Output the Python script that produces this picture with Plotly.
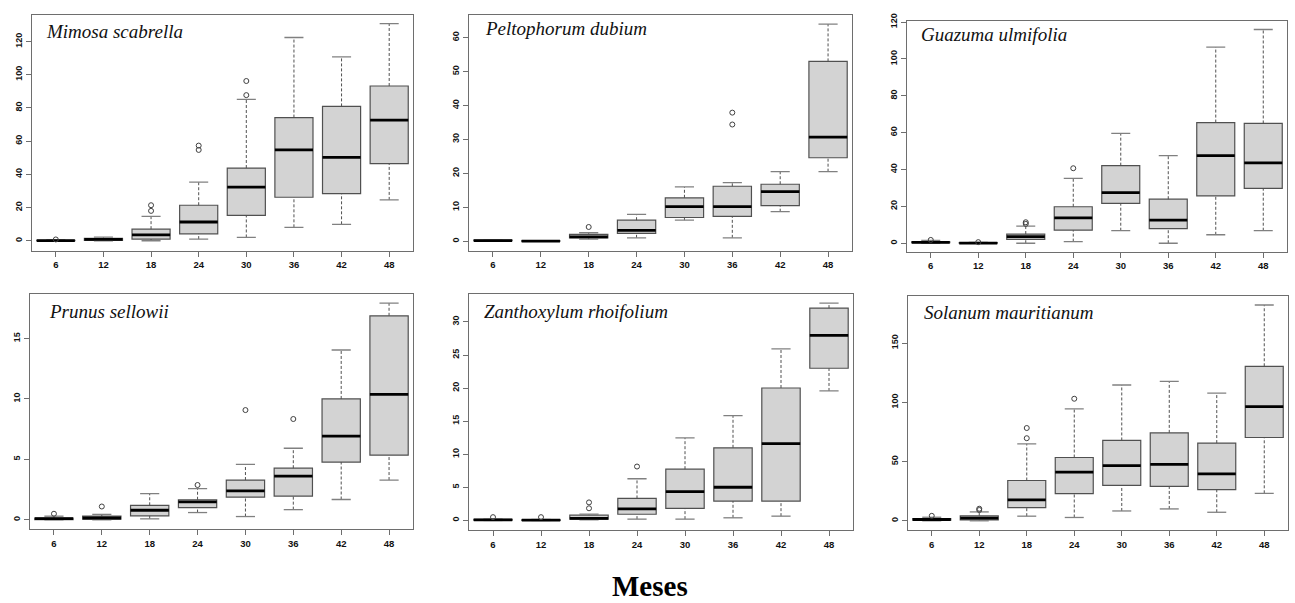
import plotly.graph_objects as go

W, H = 1295, 603
months = ["6", "12", "18", "24", "30", "36", "42", "48"]
xpos = [1, 2, 3, 4, 5, 6, 7, 8]

species = ["Mimosa scabrella", "Peltophorum dubium", "Guazuma ulmifolia",
           "Prunus sellowii", "Zanthoxylum rhoifolium", "Solanum mauritianum"]

# Mimosa scabrella
mim_low = [0, 0, 0, 1.0, 2.0, 8.1, 9.9, 24.6]
mim_q1 = [0, 0.2, 1.0, 4.2, 15.3, 26.2, 28.4, 46.4]
mim_med = [0.1, 0.8, 3.6, 11.3, 32.3, 54.7, 50.2, 72.6]
mim_q3 = [0.3, 1.5, 7.0, 21.4, 43.8, 74.2, 80.9, 93.2]
mim_up = [0.6, 2.2, 14.7, 35.3, 85.1, 122.4, 110.7, 130.7]
mim_out_x = [1, 3, 3, 4, 4, 5, 5]
mim_out_y = [0.8, 18.0, 21.4, 54.7, 57.3, 87.7, 96.2]

# Peltophorum dubium
pel_low = [0.1, 0.0, 0.6, 1.0, 6.2, 1.0, 8.7, 20.5]
pel_q1 = [0.15, 0.0, 1.0, 2.3, 7.0, 7.3, 10.5, 24.6]
pel_med = [0.2, 0.05, 1.3, 3.2, 10.2, 10.2, 14.6, 30.7]
pel_q3 = [0.3, 0.1, 2.0, 6.2, 12.8, 16.2, 16.8, 53.0]
pel_up = [0.35, 0.15, 2.5, 7.9, 16.0, 17.3, 20.5, 64.0]
pel_out_x = [3, 6, 6]
pel_out_y = [4.2, 34.4, 37.9]

# Guazuma ulmifolia
gua_low = [0, 0, 0, 0.9, 6.8, 0, 4.6, 6.8]
gua_q1 = [0.3, 0, 2.1, 7.1, 21.6, 7.9, 25.7, 29.8]
gua_med = [0.5, 0.1, 3.6, 13.8, 27.5, 12.5, 47.5, 43.6]
gua_q3 = [0.8, 0.3, 5.0, 19.8, 42.1, 23.9, 65.5, 65.0]
gua_up = [1.5, 0.4, 9.3, 35.2, 59.6, 47.5, 106.4, 116.0]
gua_out_x = [1, 2, 3, 3, 4]
gua_out_y = [1.8, 0.6, 10.5, 11.4, 40.7]

# Prunus sellowii
pru_low = [0, 0, 0.08, 0.6, 0.27, 0.84, 1.68, 3.29]
pru_q1 = [0.02, 0.05, 0.33, 1.0, 1.87, 1.96, 4.78, 5.35]
pru_med = [0.1, 0.15, 0.79, 1.49, 2.39, 3.61, 6.93, 10.38]
pru_q3 = [0.15, 0.3, 1.2, 1.66, 3.29, 4.27, 10.0, 16.88]
pru_up = [0.3, 0.45, 2.17, 2.58, 4.59, 5.92, 14.05, 17.93]
pru_out_x = [1, 2, 4, 5, 6]
pru_out_y = [0.5, 1.1, 2.88, 9.08, 8.34]

# Zanthoxylum rhoifolium
zan_low = [0, 0, 0.1, 0.2, 0.2, 0.4, 0.65, 19.57]
zan_q1 = [0.05, 0.0, 0.2, 0.94, 1.84, 2.93, 2.93, 23.0]
zan_med = [0.1, 0.05, 0.3, 1.74, 4.37, 5.02, 11.62, 27.97]
zan_q3 = [0.15, 0.1, 0.8, 3.33, 7.75, 10.98, 20.02, 32.09]
zan_up = [0.2, 0.15, 0.95, 6.3, 12.47, 15.85, 25.93, 32.84]
zan_out_x = [1, 2, 3, 3, 4]
zan_out_y = [0.5, 0.5, 1.84, 2.73, 8.15]

# Solanum mauritianum
sol_low = [0, 0, 3.9, 2.8, 8.3, 10.0, 7.2, 23.2]
sol_q1 = [0.5, 0.8, 11.1, 23.0, 29.9, 29.1, 26.3, 70.3]
sol_med = [1.1, 2.2, 17.7, 41.0, 46.5, 47.6, 39.6, 96.3]
sol_q3 = [1.8, 4.2, 34.0, 53.4, 67.8, 74.2, 65.6, 130.4]
sol_up = [3.0, 7.5, 65.0, 94.4, 114.6, 117.6, 107.7, 182.1]
sol_out_x = [1, 2, 2, 3, 3, 4]
sol_out_y = [4.2, 9.1, 10.2, 69.7, 78.3, 103.0]

y_ticks = [
    [0, 20, 40, 60, 80, 100, 120],
    [0, 10, 20, 30, 40, 50, 60],
    [0, 20, 40, 60, 80, 100, 120],
    [0, 5, 10, 15],
    [0, 5, 10, 15, 20, 25, 30],
    [0, 50, 100, 150],
]
y_ranges = [[-6.0, 136.0], [-2.8, 66.7], [-4.6, 120.7],
            [-0.76, 18.67], [-1.44, 34.2], [-7.75, 189.6]]

data = [
    (mim_low, mim_q1, mim_med, mim_q3, mim_up, mim_out_x, mim_out_y),
    (pel_low, pel_q1, pel_med, pel_q3, pel_up, pel_out_x, pel_out_y),
    (gua_low, gua_q1, gua_med, gua_q3, gua_up, gua_out_x, gua_out_y),
    (pru_low, pru_q1, pru_med, pru_q3, pru_up, pru_out_x, pru_out_y),
    (zan_low, zan_q1, zan_med, zan_q3, zan_up, zan_out_x, zan_out_y),
    (sol_low, sol_q1, sol_med, sol_q3, sol_up, sol_out_x, sol_out_y),
]

# panel frames in pixels: (left, right, top, bottom)
frames = [
    (32, 413, 7, 246),
    (469, 852, 7, 246),
    (907, 1287, 13, 247),
    (30, 413, 290, 528),
    (469, 853, 290, 529),
    (908, 1288, 292, 529),
]
# label offsets (px) from frame left / top
lab_dx = [12, 14, 12, 17, 13, 14]
lab_dy = [17, 14, 14, 18, 18, 17]

BOXW = 0.8
CAP = 0.2
FRAME_COL = "#6e6e6e"
BOX_COL = "#505050"

fig = go.Figure()
layout_axes = {}
annotations = []

for i, (d, fr) in enumerate(zip(data, frames)):
    low, q1, med, q3, up, ox, oy = d
    n = i + 1
    xa = "x" if n == 1 else f"x{n}"
    ya = "y" if n == 1 else f"y{n}"

    # whiskers (dashed)
    wx, wy = [], []
    for k in range(len(xpos)):
        wx += [xpos[k], xpos[k], None, xpos[k], xpos[k], None]
        wy += [low[k], q1[k], None, q3[k], up[k], None]
    fig.add_trace(go.Scatter(x=wx, y=wy, mode="lines", xaxis=xa, yaxis=ya,
                             line=dict(color=BOX_COL, width=1, dash="3px,2px"),
                             showlegend=False, hoverinfo="skip"))
    # staples
    cx, cy = [], []
    for k in range(len(xpos)):
        cx += [xpos[k] - CAP, xpos[k] + CAP, None, xpos[k] - CAP, xpos[k] + CAP, None]
        cy += [low[k], low[k], None, up[k], up[k], None]
    fig.add_trace(go.Scatter(x=cx, y=cy, mode="lines", xaxis=xa, yaxis=ya,
                             line=dict(color="#808080", width=1.3),
                             showlegend=False, hoverinfo="skip"))
    # boxes
    fig.add_trace(go.Box(x=xpos, q1=q1, median=med, q3=q3,
                         lowerfence=q1, upperfence=q3,
                         width=BOXW, fillcolor="#d3d3d3",
                         line=dict(color=BOX_COL, width=1.2),
                         xaxis=xa, yaxis=ya, showlegend=False,
                         hoverinfo="skip"))
    # medians (thick)
    mx, my = [], []
    for k in range(len(xpos)):
        mx += [xpos[k] - BOXW / 2, xpos[k] + BOXW / 2, None]
        my += [med[k], med[k], None]
    fig.add_trace(go.Scatter(x=mx, y=my, mode="lines", xaxis=xa, yaxis=ya,
                             line=dict(color="black", width=2.8),
                             showlegend=False, hoverinfo="skip"))
    # outliers
    fig.add_trace(go.Scatter(x=ox, y=oy, mode="markers", xaxis=xa, yaxis=ya,
                             marker=dict(symbol="circle-open", size=5,
                                         color="#404040", line=dict(width=1)),
                             showlegend=False, hoverinfo="skip"))

    l, r, t, b = fr
    xdom = [l / W, r / W]
    ydom = [1 - b / H, 1 - t / H]
    xkey = "xaxis" if n == 1 else f"xaxis{n}"
    ykey = "yaxis" if n == 1 else f"yaxis{n}"
    layout_axes[xkey] = dict(
        domain=xdom, anchor=ya, range=[0.5, 8.5],
        tickmode="array", tickvals=xpos, ticktext=months,
        ticks="outside", ticklen=5, tickcolor=FRAME_COL, tickwidth=1,
        showline=True, mirror=True, linecolor=FRAME_COL, linewidth=1.3,
        showgrid=False, zeroline=False,
        tickfont=dict(family="Liberation Sans", size=9.5, color="#111111",
                      weight="bold"),
    )
    layout_axes[ykey] = dict(
        domain=ydom, anchor=xa, range=y_ranges[i],
        tickmode="array", tickvals=y_ticks[i],
        ticktext=[str(v) for v in y_ticks[i]],
        tickangle=-90,
        ticks="outside", ticklen=5, tickcolor=FRAME_COL, tickwidth=1,
        showline=True, mirror=True, linecolor=FRAME_COL, linewidth=1.3,
        showgrid=False, zeroline=False,
        tickfont=dict(family="Liberation Sans", size=9, color="#111111",
                      weight="bold"),
    )
    annotations.append(dict(
        text=species[i], xref=f"{xa} domain", yref=f"{ya} domain",
        x=lab_dx[i] / (r - l), y=1 - lab_dy[i] / (b - t),
        xanchor="left", yanchor="middle",
        showarrow=False,
        font=dict(family="Liberation Serif", size=19, color="#111111",
                  style="italic"),
    ))

annotations.append(dict(
    text="<b>Meses</b>", xref="paper", yref="paper",
    x=650 / W, y=1 - 586 / H, xanchor="center", yanchor="middle",
    showarrow=False,
    font=dict(family="Liberation Serif", size=29, color="black"),
))

fig.update_layout(
    width=W, height=H,
    margin=dict(l=0, r=0, t=0, b=0),
    paper_bgcolor="white", plot_bgcolor="white",
    showlegend=False,
    annotations=annotations,
    **layout_axes,
)

fig.write_html("out.html", config={"displayModeBar": False})
